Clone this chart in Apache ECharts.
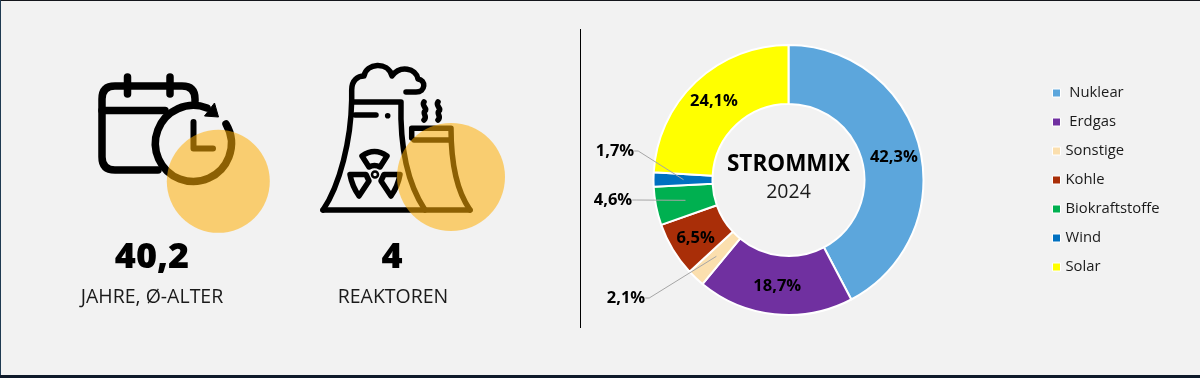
<!DOCTYPE html>
<html>
<head>
<meta charset="utf-8">
<title>Strommix 2024</title>
<script src="https://cdn.jsdelivr.net/npm/echarts@6/dist/echarts.min.js"></script>
<style>
  html, body { margin: 0; padding: 0; background: #f2f2f2; }
  #main { width: 1200px; height: 378px; }
</style>
</head>
<body>
<div id="main"></div>
<script>
// Daten
const categories = ["Nuklear", "Erdgas", "Sonstige", "Kohle", "Biokraftstoffe", "Wind", "Solar"];
const shares = [42.3, 18.7, 2.1, 6.5, 4.6, 1.7, 24.1];
const colors = ["#5ca6dc", "#7030a0", "#fbdfae", "#a92e08", "#00b050", "#0070c0", "#ffff00"];
const outsideLabels = ["Sonstige", "Biokraftstoffe", "Wind"];
const kpiValues = ["40,2", "4"];
const kpiLabels = ["JAHRE, Ø-ALTER", "REAKTOREN"];

const fontName = "'Open Sans', sans-serif";
const fmt = v => v.toFixed(1).replace(".", ",") + "%";

// Position der ausgelagerten Beschriftungen
const outsidePos = {
  Sonstige: [626, 298],
  Biokraftstoffe: [613, 200],
  Wind: [615, 151]
};
// kleine Korrektur der inneren Beschriftungen
const insideShift = { Nuklear: 3, Erdgas: -2, Kohle: 2 };

// Icons
const calendarPaths = [
  "M158,170 L115,170 Q102,170 102,157 L102,99 Q102,86 115,86 L182,86 Q195,86 195,99 L195,101",
  "M102,110.5 L165,110.5",
  "M127.5,77 L127.5,94",
  "M170,77 L170,94",
  "M207,108 A38,38 0 1 0 226,124"
];
const clockHands = "M193.5,122 L193.5,148.5 L213,148.5";
const clockArrow = "M214.5,103 L218.5,117 L204.5,116 Z";
const towerPaths = [
  "M323,210 C340,185 351,140 351.7,100 L351.7,90 C351.7,80 358,76 364,76 C366,63 388,61 392,76 C400,65 416,68 418,79 C426,80 426,92 416,92 L406,92",
  "M352,102 L401,102 C400,140 405,180 425,210",
  "M323,210 L470,210",
  "M355,115 L376,115",
  "M411.7,138 L411.7,128.3 L451,128.3 C451,160 456,190 470,210",
  "M414,140 L449,140",
  "M424,102 C421,106 428,108 425,111 C422,114 428,116 424,120",
  "M438,102 C435,106 442,108 439,111 C436,114 442,116 438,120",
  "M362,156 Q374.5,147 387,156 L380,167 Q374.5,164 369,167 Z",
  "M350,174.5 L366,174.5 L369,181 L359,196 Q352,186 350,174.5 Z",
  "M400,174.5 L384,174.5 L381,181 L391,196 Q398,186 400,174.5 Z"
];

function iconRender() {
  const stroke = (d, w) => ({
    type: "path",
    shape: { pathData: d },
    style: { fill: "none", stroke: "#000", lineWidth: w, lineCap: "round", lineJoin: "round" }
  });
  const children = [];
  calendarPaths.forEach(d => children.push(stroke(d, 7.5)));
  children.push(stroke(clockHands, 6));
  children.push({ type: "path", shape: { pathData: clockArrow }, style: { fill: "#000", stroke: "#000", lineWidth: 1 } });
  towerPaths.forEach(d => children.push(stroke(d, 5.5)));
  children.push({ type: "circle", shape: { cx: 387.7, cy: 115.7, r: 2.8 }, style: { fill: "#000" } });
  children.push({ type: "circle", shape: { cx: 375, cy: 174.5, r: 3 }, style: { fill: "none", stroke: "#000", lineWidth: 2.5 } });
  return { type: "group", children: children };
}

const chart = echarts.init(document.getElementById("main"));

const bigText = (x, text) => ({
  type: "text", x: x, y: 258, z: 5,
  style: { text: text, font: "800 36px " + fontName, fill: "#000", align: "center", verticalAlign: "middle" }
});
const smallText = (x, text) => ({
  type: "text", x: x, y: 297, z: 5,
  style: { text: text, font: "400 19.5px " + fontName, fill: "#1a1a1a", align: "center", verticalAlign: "middle" }
});

chart.setOption({
  backgroundColor: "#f2f2f2",
  animation: false,
  legend: {
    orient: "vertical",
    left: 1047,
    top: 79,
    itemWidth: 8,
    itemHeight: 8,
    itemGap: 11,
    data: categories,
    selectedMode: false,
    icon: "rect",
    itemStyle: { borderColor: "#ffffff", borderWidth: 1 },
    formatter: name => (name === "Nuklear" || name === "Erdgas") ? " " + name : name,
    textStyle: { fontFamily: fontName, fontSize: 14.8, color: "#1a1a1a", lineHeight: 18 }
  },
  graphic: {
    elements: [
      // Rahmen
      { type: "rect", shape: { x: 0, y: 0, width: 1200, height: 1 }, style: { fill: "#14161c" } },
      { type: "rect", shape: { x: 0, y: 0, width: 1, height: 378 }, style: { fill: "#1f3a52" } },
      { type: "rect", shape: { x: 0, y: 375, width: 1200, height: 3 }, style: { fill: "#0f1a2a" } },
      // Trennlinie
      { type: "rect", shape: { x: 580, y: 29, width: 1, height: 299 }, style: { fill: "#000" } },
      // Kreise ueber den Icons
      { type: "circle", z: 4, shape: { cx: 218.3, cy: 181.3, r: 51.5 }, style: { fill: "rgba(255,175,5,0.55)" } },
      { type: "circle", z: 4, shape: { cx: 451, cy: 177, r: 54 }, style: { fill: "rgba(255,175,5,0.55)" } },
      bigText(152, kpiValues[0]),
      bigText(392, kpiValues[1]),
      smallText(152, kpiLabels[0]),
      smallText(393, kpiLabels[1]),
      // Mitte vom Ring
      {
        type: "text", x: 788.5, y: 165, z: 5,
        style: { text: "STROMMIX", font: "700 22.5px " + fontName, fill: "#000", align: "center", verticalAlign: "middle" }
      },
      {
        type: "text", x: 788.5, y: 192, z: 5,
        style: { text: "2024", font: "400 19.5px " + fontName, fill: "#1a1a1a", align: "center", verticalAlign: "middle" }
      }
    ]
  },
  series: [
    {
      type: "custom",
      coordinateSystem: "none",
      silent: true,
      z: 1,
      data: [0],
      renderItem: iconRender
    },
    {
      type: "pie",
      center: [788.5, 180],
      radius: [76, 135],
      startAngle: 90,
      clockwise: true,
      silent: true,
      z: 2,
      itemStyle: { borderColor: "#ffffff", borderWidth: 2 },
      data: categories.map((name, i) => ({
        name: name,
        value: shares[i],
        itemStyle: { color: colors[i] },
        label: { show: !outsideLabels.includes(name) }
      })),
      label: {
        position: "inside",
        formatter: p => fmt(p.value),
        fontFamily: fontName,
        fontSize: 16.5,
        fontWeight: 700,
        color: "#000"
      },
      labelLine: { show: false },
      labelLayout: p => ({ dy: insideShift[categories[p.dataIndex]] || 0 })
    },
    {
      // unsichtbarer Ring, nur fuer die Fuehrungslinien der kleinen Anteile
      type: "pie",
      center: [788.5, 180],
      radius: [0, 105],
      startAngle: 90,
      clockwise: true,
      silent: true,
      z: 3,
      avoidLabelOverlap: false,
      itemStyle: { color: "transparent", borderWidth: 0 },
      data: categories.map((name, i) => {
        const show = outsideLabels.includes(name);
        return {
          name: name,
          value: shares[i],
          label: { show: show },
          labelLine: { show: show }
        };
      }),
      label: {
        position: "outside",
        formatter: p => fmt(p.value),
        fontFamily: fontName,
        fontSize: 16.5,
        fontWeight: 700,
        color: "#000"
      },
      labelLine: { length: 10, length2: 4, lineStyle: { color: "#a6a6a6", width: 1 } },
      labelLayout: p => {
        const pos = outsidePos[categories[p.dataIndex]];
        return pos ? { x: pos[0], y: pos[1], align: "center", verticalAlign: "middle" } : {};
      }
    }
  ]
});
</script>
</body>
</html>
